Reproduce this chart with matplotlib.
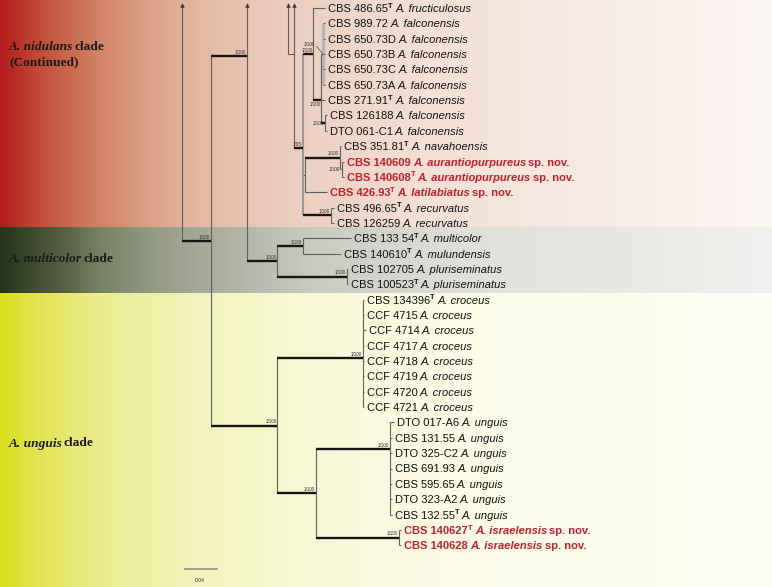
import numpy as np
import matplotlib
matplotlib.use("Agg")
import matplotlib.pyplot as plt
from matplotlib.transforms import offset_copy

# ---------------- data ----------------
strains = ["CBS 486.65", "CBS 989.72", "CBS 650.73D", "CBS 650.73B", "CBS 650.73C",
           "CBS 650.73A", "CBS 271.91", "CBS 126188", "DTO 061-C1", "CBS 351.81",
           "CBS 140609", "CBS 140608", "CBS 426.93", "CBS 496.65", "CBS 126259",
           "CBS 133 54", "CBS 140610", "CBS 102705", "CBS 100523", "CBS 134396",
           "CCF 4715", "CCF 4714", "CCF 4717", "CCF 4718", "CCF 4719", "CCF 4720",
           "CCF 4721", "DTO 017-A6", "CBS 131.55", "DTO 325-C2", "CBS 691.93",
           "CBS 595.65", "DTO 323-A2", "CBS 132.55", "CBS 140627", "CBS 140628"]
species = (["A. fructiculosus"] + ["A. falconensis"] * 8 + ["A. navahoensis"]
           + ["A. aurantiopurpureus"] * 2 + ["A. latilabiatus"] + ["A. recurvatus"] * 2
           + ["A. multicolor", "A. mulundensis"] + ["A. pluriseminatus"] * 2
           + ["A. croceus"] * 8 + ["A. unguis"] * 7 + ["A. israelensis"] * 2)
type_strain = [0, 6, 9, 11, 12, 13, 15, 16, 18, 19, 33, 34]
new_species = [10, 11, 12, 34, 35]
tip_x = [0.179, 0.179, 0.179, 0.179, 0.179, 0.179, 0.179, 0.181, 0.181, 0.199,
         0.2025, 0.2025, 0.181, 0.190, 0.190, 0.211, 0.199, 0.2075, 0.2075, 0.2275,
         0.2275, 0.230, 0.2275, 0.2275, 0.2275, 0.2275, 0.2275, 0.265, 0.2625, 0.2625,
         0.2625, 0.2625, 0.2625, 0.2625, 0.274, 0.274]

# internal nodes ('^' = branch continued from the previous part of the tree)
node_x = {"root": 0.0, "n211": 0.036, "n247": 0.081, "nMult": 0.119, "nMc": 0.151,
          "nPl": 0.206, "nUng": 0.119, "nCro": 0.226, "nU2": 0.1675, "nUn": 0.260,
          "nIsr": 0.271, "p294": 0.140, "n303": 0.151, "nF": 0.164, "nA": 0.174,
          "nPoly": 0.176, "nB": 0.179, "n305": 0.154, "nNav": 0.1975, "nAur": 0.200,
          "nRec": 0.186}
node_children = {
    "root": ["^", "n211"], "n211": ["n247", "nUng"], "n247": ["^", "nMult"],
    "nMult": ["nMc", "nPl"], "nMc": [15, 16], "nPl": [17, 18],
    "nUng": ["nCro", "nU2"], "nCro": list(range(19, 27)), "nU2": ["nUn", "nIsr"],
    "nUn": list(range(27, 34)), "nIsr": [34, 35],
    "p294": ["^", "n303"], "n303": ["nF", "n305", "nRec"], "nF": [0, "nA"],
    "nA": ["nPoly", 6, "nB"], "nPoly": [1, 2, 3, 4, 5], "nB": [7, 8],
    "n305": ["nNav", 12], "nNav": [9, "nAur"], "nAur": [10, 11], "nRec": [13, 14]}
node_support = {"n211": "1/100", "n247": "1/100", "nMult": "1/100", "nMc": "1/100",
                "nPl": "1/100", "nUng": "1/100", "nCro": "1/100", "nU2": "1/100",
                "nUn": "1/100", "nIsr": "1/100", "n303": "1/95", "nF": "1/100",
                "nA": "1/100", "nPoly": "1/100", "nB": "1/100", "nNav": "1/100",
                "nAur": "1/100", "nRec": "1/100"}
node_attach_y = {"n211": 15.18, "n247": 3.13, "nCro": 22.8, "nUn": 28.73,
                 "n303": 9.12, "nA": 5.99}
side_link = (0.1325, 0.140, 2.99)   # continued branch joining p294
scale_length = 0.04

clade_names = ["A. nidulans", "A. multicolor", "A. unguis"]

# ---------------- layout / style ----------------
PX = 0.00125             # branch-length units per pixel (scale bar 0.04 = 32 px)
X0, X1 = -182 * PX, (772 - 182) * PX
ROW = 15.35
Y0, Y1 = -8 / ROW, (587 - 8) / ROW
ARROW_TOP = (4 - 8) / ROW
RED = "#c41f2b"
THIN = "#606060"
BOLD = "#161616"

fig = plt.figure(figsize=(7.72, 5.87), dpi=100)
ax = fig.add_axes([0, 0, 1, 1])
ax.axis("off")
renderer = fig.canvas.get_renderer()


def py(p):
    return (p - 8) / ROW


# background gradients
bands = [
    (Y0, py(227), [(0, (178, 28, 28)), (0.045, (192, 72, 52)), (0.09, (202, 105, 78)),
                   (0.13, (211, 132, 104)), (0.2, (220, 165, 140)), (0.26, (228, 185, 165)),
                   (0.35, (234, 203, 188)), (0.55, (243, 224, 214)), (1, (252, 246, 243))]),
    (py(227), py(293), [(0, (40, 52, 28)), (0.045, (65, 77, 46)), (0.09, (92, 103, 72)),
                        (0.13, (120, 130, 100)), (0.2, (148, 155, 132)), (0.26, (165, 170, 152)),
                        (0.4, (200, 202, 192)), (0.6, (222, 224, 218)), (1, (240, 240, 238))]),
    (py(293), Y1, [(0, (220, 222, 30)), (0.045, (226, 228, 80)), (0.09, (231, 233, 115)),
                   (0.17, (238, 239, 160)), (0.26, (243, 243, 190)), (0.4, (248, 248, 215)),
                   (0.6, (251, 251, 232)), (1, (253, 253, 243))]),
]
xs = np.linspace(0, 1, 400)
for top, bot, stops in bands:
    pos = [s[0] for s in stops]
    img = np.zeros((1, len(xs), 3))
    for c in range(3):
        img[0, :, c] = np.interp(xs, pos, [s[1][c] / 255 for s in stops])
    ax.imshow(img, extent=[X0, X1, bot, top], aspect="auto", interpolation="bilinear", zorder=0)


def ypos(k):
    if isinstance(k, int):
        return k
    if k in node_attach_y:
        return node_attach_y[k]
    ks = [c for c in node_children[k] if c != "^"]
    return (ypos(ks[0]) + ypos(ks[-1])) / 2


def xpos(k):
    return tip_x[k] if isinstance(k, int) else node_x[k]


def support_label(k):
    s = node_support.get(k)
    if s is None:
        return
    x, y = node_x[k], ypos(k)
    kw = dict(fontsize=3.3, color="#333333", family="Liberation Sans", zorder=5)
    if k == "nA":
        ax.text(x - 0.0008, y + 0.12, s, ha="right", va="top", **kw)
    elif k in ("nB", "nAur"):
        ax.text(x - 0.002, y, s, ha="right", va="center", **kw)
    elif k == "nPoly":
        ax.text(x - 0.0095, y - 0.62, s, ha="right", va="center", **kw)
        ax.plot([x - 0.008, x], [y - 0.52, y], color="#333333", lw=0.4, zorder=5)
    else:
        ax.text(x - 0.0008, y - 0.08, s, ha="right", va="bottom", **kw)


def arrow(x):
    ax.plot([x], [ARROW_TOP + 0.08], marker="^", ms=3.2, color="#333333", zorder=6, mew=0)


def draw(k):
    x = node_x[k]
    ys = [ypos(k)]
    for c in node_children[k]:
        if c == "^":
            ys.append(ARROW_TOP)
            arrow(x)
            continue
        cy = ypos(c)
        ys.append(cy)
        bold = (not isinstance(c, int)) and c in node_support and c not in ("nPoly", "nAur")
        ax.plot([x, xpos(c)], [cy, cy], color=BOLD if bold else THIN,
                lw=1.7 if bold else 0.8, solid_capstyle="butt", zorder=3)
        if not isinstance(c, int):
            draw(c)
            support_label(c)
    if k == "n303":
        col, lw = "#9a9a9a", 1.5
    elif k == "nPoly":
        col, lw = "#b8b8b8", 2.4
    else:
        col, lw = THIN, 0.8
    ax.plot([x, x], [min(ys), max(ys)], color=col, lw=lw, solid_capstyle="butt", zorder=2)


draw("root")
draw("p294")
sx0, sx1, sy = side_link
ax.plot([sx0, sx0, sx1], [ARROW_TOP, sy, sy], color=THIN, lw=0.8, zorder=2)
arrow(sx0)


def rich(x, y, segs, base):
    dx = 0.0
    for txt, kw, rise in segs:
        if txt == " ":
            em = 0.08 if kw.get("family") == "Liberation Serif" else 0.2
            dx += em * kw["fontsize"] * 100 / 72
            continue
        tr = offset_copy(base, fig=fig, x=dx, y=rise, units="dots")
        t = ax.text(x, y, txt, transform=tr, va="baseline", ha="left", zorder=6, **kw)
        dx += t.get_window_extent(renderer).width


FS = 8.0
tip_base = offset_copy(ax.transData, fig=fig, x=3.0, y=-4.0, units="dots")
for i, (st, sp) in enumerate(zip(strains, species)):
    new = i in new_species
    col = RED if new else "#111111"
    w = "bold" if new else "normal"
    base = dict(family="Liberation Sans", fontsize=FS, color=col, fontweight=w)
    segs = [(st, base, 0)]
    if i in type_strain:
        segs.append(("T", dict(base, fontsize=FS * 0.68, fontweight="bold"), 4.4))
    segs.append((" ", base, 0))
    segs.append((sp, dict(base, fontstyle="italic"), 0))
    if new:
        segs.append((" ", base, 0))
        segs.append(("sp. nov.", base, 0))
    rich(tip_x[i], i, segs, tip_base)

# clade labels
CFS = 9.6
cb = dict(family="Liberation Serif", fontsize=CFS, fontweight="bold", color="#1a1a1a")
ci = dict(cb, fontstyle="italic")
for name, ypx in zip(clade_names, [49.5, 262.5, 446.5]):
    rich(X0 + 9 * PX, py(ypx), [(name, ci, 0), (" ", cb, 0), ("clade", cb, 0)], ax.transData)
rich(X0 + 9 * PX, py(65.5), [("(Continued)", cb, 0)], ax.transData)

# scale bar
sb_x = 0.00375
sb_y = py(569)
ax.plot([sb_x, sb_x + scale_length], [sb_y, sb_y], color="#9a9a88", lw=1.3, zorder=3)
ax.text(sb_x + scale_length / 2 - 0.001, py(580), f"{scale_length:.2f}", ha="center",
        va="center", fontsize=3.6, color="#333333", family="Liberation Sans")

ax.set_xlim(X0, X1)
ax.set_ylim(Y1, Y0)
fig.savefig("out.png", dpi=100)
